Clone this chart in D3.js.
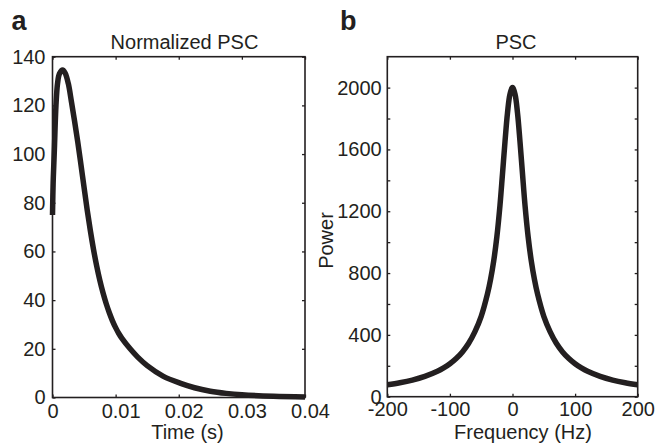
<!DOCTYPE html>
<html>
<head>
<meta charset="utf-8">
<script src="https://cdn.jsdelivr.net/npm/d3@7"></script>
<style>
  html, body { margin: 0; padding: 0; background: #fff; }
  svg { display: block; font-family: "Liberation Sans", Arial, sans-serif; }
  .tick text { font-size: 20px; fill: #231f20; font-family: "Liberation Sans", Arial, sans-serif; }
</style>
</head>
<body>
<svg id="chart" width="661" height="445"></svg>
<script>
// ---- Data ----
// Panel a: Normalized PSC vs time (s)
const timeS = [0, 0.0001, 0.0003, 0.00055, 0.0008, 0.0011, 0.0016, 0.002, 0.0025, 0.003,
               0.0035, 0.004, 0.0045, 0.005, 0.0055, 0.006, 0.0065, 0.007, 0.0075, 0.008,
               0.0085, 0.009, 0.0095, 0.01, 0.0105, 0.011, 0.0123, 0.0135, 0.015, 0.0175, 0.0202,
               0.0225, 0.025, 0.0275, 0.03, 0.035, 0.04];
const normPSC = [75, 88, 102, 120, 129, 133, 134.5, 133.3, 129, 121.5,
                 113.5, 105, 95.8, 86.3, 77, 68.5, 60.8, 54, 48.1, 43,
                 38.6, 34.8, 31.5, 28.7, 26.3, 24.3, 20, 16.6, 13.1, 8.8, 5.9,
                 4.0, 2.6, 1.7, 1.1, 0.5, 0.25];
const timeTicks = [0, 0.01, 0.02, 0.03, 0.04];
const normTicks = [0, 20, 40, 60, 80, 100, 120, 140];

// Panel b: PSC power spectrum vs frequency (Hz)
const freqHz = [-200, -180, -160, -140, -120, -110, -100, -90, -80, -70, -60, -50, -40, -35, -30, -25,
                -20, -16, -12, -8, -4, 0,
                4, 8, 12, 16, 20, 25, 30, 35, 40, 50, 60, 70, 80, 90, 100, 110, 120, 140, 160, 180, 200];
const power = [77, 90, 107, 131, 164, 186, 213, 247, 290, 346, 421, 520, 665, 760, 879, 1034,
               1238, 1441, 1649, 1836, 1958, 2000,
               1958, 1836, 1649, 1441, 1238, 1034, 879, 760, 665, 520, 421, 346, 290, 247, 213, 186, 164, 131, 107, 90, 77];
const freqTicks = [-200, -100, 0, 100, 200];
const powerTicks = [0, 200, 400, 600, 800, 1000, 1200, 1400, 1600, 1800, 2000];
const powerLabelStep = 400;

// ---- Drawing ----
const ink = "#231f20";
const svg = d3.select("#chart");

function panel(opts) {
  const { left, right, top, bottom, xDomain, yDomain, xs, ys, xTicks, yTicks,
          yFmt, xFmt, yPad, xPad, xLabelOffset } = opts;
  const x = d3.scaleLinear().domain(xDomain).range([left, right]);
  const y = d3.scaleLinear().domain(yDomain).range([bottom, top]);
  const g = svg.append("g");

  // Axes (ticks inward)
  const bottomAx = g.append("g").attr("transform", `translate(0,${bottom})`)
    .call(d3.axisBottom(x).tickValues(xTicks).tickSize(-3).tickPadding(xPad).tickFormat(xFmt));
  g.append("g").attr("transform", `translate(0,${top})`)
    .call(d3.axisTop(x).tickValues(xTicks).tickSize(-3).tickFormat(""));
  g.append("g").attr("transform", `translate(${left},0)`)
    .call(d3.axisLeft(y).tickValues(yTicks).tickSize(-3).tickPadding(yPad).tickFormat(yFmt));
  g.append("g").attr("transform", `translate(${right},0)`)
    .call(d3.axisRight(y).tickValues(yTicks).tickSize(-3).tickFormat(""));
  g.selectAll(".domain").remove();
  g.selectAll(".tick line").attr("stroke", ink).attr("stroke-width", 1.3);
  g.selectAll(".tick text").attr("fill", ink);
  bottomAx.selectAll(".tick text").attr("dx", d => xLabelOffset(d)).attr("dy", "0.75em");

  // Curve
  g.append("path")
    .datum(xs.map((v, i) => [v, ys[i]]))
    .attr("fill", "none")
    .attr("stroke", ink)
    .attr("stroke-width", 5.5)
    .attr("stroke-linejoin", "round")
    .attr("d", d3.line().x(d => x(d[0])).y(d => y(d[1])).curve(d3.curveCatmullRom.alpha(0.5)));

  // Box
  g.append("rect")
    .attr("x", left).attr("y", top)
    .attr("width", right - left).attr("height", bottom - top)
    .attr("fill", "none").attr("stroke", ink).attr("stroke-width", 1.6);
  return g;
}

panel({
  left: 52.5, right: 305, top: 56.7, bottom: 397.5,
  xDomain: [0, 0.04], yDomain: [0, 140],
  xs: timeS, ys: normPSC, xTicks: timeTicks, yTicks: normTicks,
  xFmt: d => d === 0 ? "0" : d3.format(".2f")(d),
  yFmt: d => d, yPad: 7, xPad: 5,
  xLabelOffset: d => d === 0 ? 0 : 5
});

panel({
  left: 387.3, right: 637.7, top: 56.7, bottom: 396.7,
  xDomain: [-200, 200], yDomain: [0, 2200],
  xs: freqHz, ys: power, xTicks: freqTicks, yTicks: powerTicks,
  xFmt: d => d,
  yFmt: d => d % powerLabelStep === 0 ? d : "", yPad: 5.6, xPad: 4.5,
  xLabelOffset: d => 0
});

// Texts
const txt = (x, y, s, size, weight, anchor, rot) => {
  const t = svg.append("text")
    .attr("x", x).attr("y", y).text(s)
    .attr("font-size", size).attr("font-weight", weight || "normal")
    .attr("text-anchor", anchor || "middle").attr("fill", ink);
  if (rot) t.attr("transform", `rotate(${rot},${x},${y})`);
  return t;
};
txt(11.5, 29.5, "a", 27, "bold", "start");
txt(340, 30, "b", 27, "bold", "start");
txt(184.5, 49, "Normalized PSC", 20);
txt(516, 49, "PSC", 20);
txt(187.5, 439, "Time (s)", 20);
txt(523, 439, "Frequency (Hz)", 20);
txt(333, 240.5, "Power", 20, "normal", "middle", -90);
</script>
</body>
</html>
